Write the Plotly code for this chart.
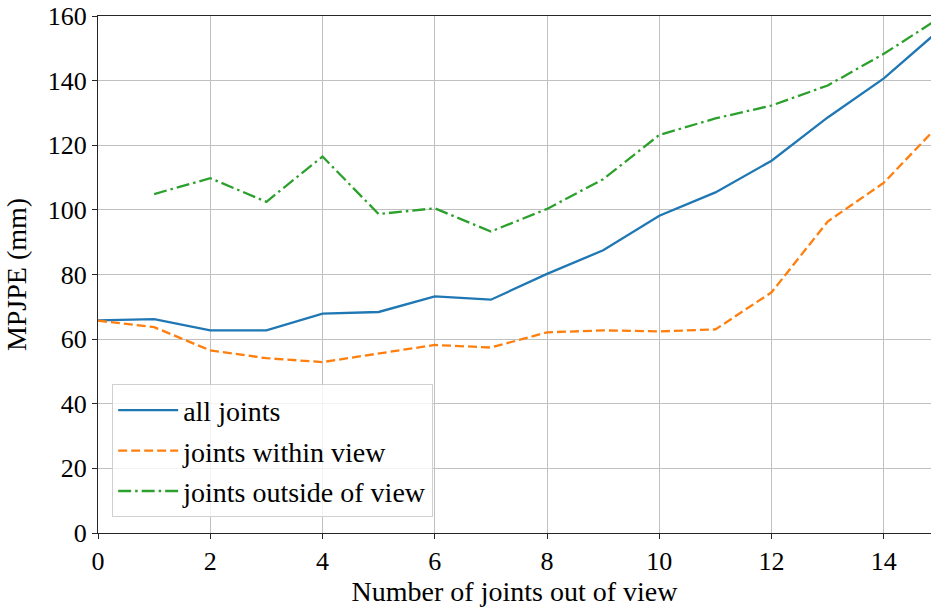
import plotly.graph_objects as go

# Number of joints out of view
n_out = list(range(16))

# MPJPE (mm) per subset of joints
all_joints = [65.8, 66.2, 62.7, 62.7, 67.9, 68.4, 73.2, 72.2, 80.2, 87.5,
              98.2, 105.4, 115.2, 128.6, 140.7, 155.8]
within_view = [65.7, 63.7, 56.5, 54.1, 52.9, 55.6, 58.2, 57.4, 62.1, 62.7,
               62.4, 63.0, 74.5, 96.4, 108.4, 126.6]
outside_view = [None, 104.9, 109.8, 102.5, 116.5, 98.7, 100.5, 93.3, 100.3, 109.5,
                123.2, 128.3, 132.3, 138.5, 148.3, 159.5]

x_ticks = [0, 2, 4, 6, 8, 10, 12, 14]
y_ticks = [0, 20, 40, 60, 80, 100, 120, 140, 160]

FONT = "Liberation Serif"
TICK_SIZE = 26
TEXT_SIZE = 28
LW = 2.3

fig = go.Figure()
fig.add_trace(go.Scatter(x=n_out, y=all_joints, mode="lines", name="all joints",
                         legendgroup="a",
                         line=dict(color="#1f77b4", width=LW)))
fig.add_trace(go.Scatter(x=n_out, y=within_view, mode="lines", name="joints within view",
                         legendgroup="b",
                         line=dict(color="#ff7f0e", width=LW, dash="9px,4px")))
fig.add_trace(go.Scatter(x=n_out, y=outside_view, mode="lines", name="joints outside of view",
                         legendgroup="c",
                         line=dict(color="#2ca02c", width=LW, dash="13px,4px,2.5px,4px")))

fig.update_layout(
    width=931, height=608,
    margin=dict(l=98, r=0, t=16, b=75),
    paper_bgcolor="white", plot_bgcolor="white",
    font=dict(family=FONT, size=TEXT_SIZE, color="black"),
    legend=dict(x=0.017, y=0.03, xanchor="left", yanchor="bottom",
                bgcolor="rgba(255,255,255,0.8)", bordercolor="#d0d0d0", borderwidth=1,
                font=dict(family=FONT, size=TEXT_SIZE), tracegroupgap=1,
                itemwidth=60),
    showlegend=True,
)

fig.update_xaxes(range=[0, 14.84], tickvals=x_ticks, mirror=True,
                 title_text="Number of joints out of view", title_standoff=2)
fig.update_yaxes(range=[0, 160], tickvals=y_ticks, mirror=False,
                 title_text="MPJPE (mm)", title_standoff=12)

# shared axis styling
for upd in (fig.update_xaxes, fig.update_yaxes):
    upd(showgrid=True, gridcolor="#c0c0c0", gridwidth=1,
        showline=True, linecolor="#262626", linewidth=1.3,
        ticks="outside", ticklen=5, tickwidth=1.2, tickcolor="#262626",
        tickfont_family=FONT, tickfont_size=TICK_SIZE, tickfont_color="black",
        title_font_family=FONT, title_font_size=TEXT_SIZE,
        zeroline=False)

fig.write_html("out.html")
